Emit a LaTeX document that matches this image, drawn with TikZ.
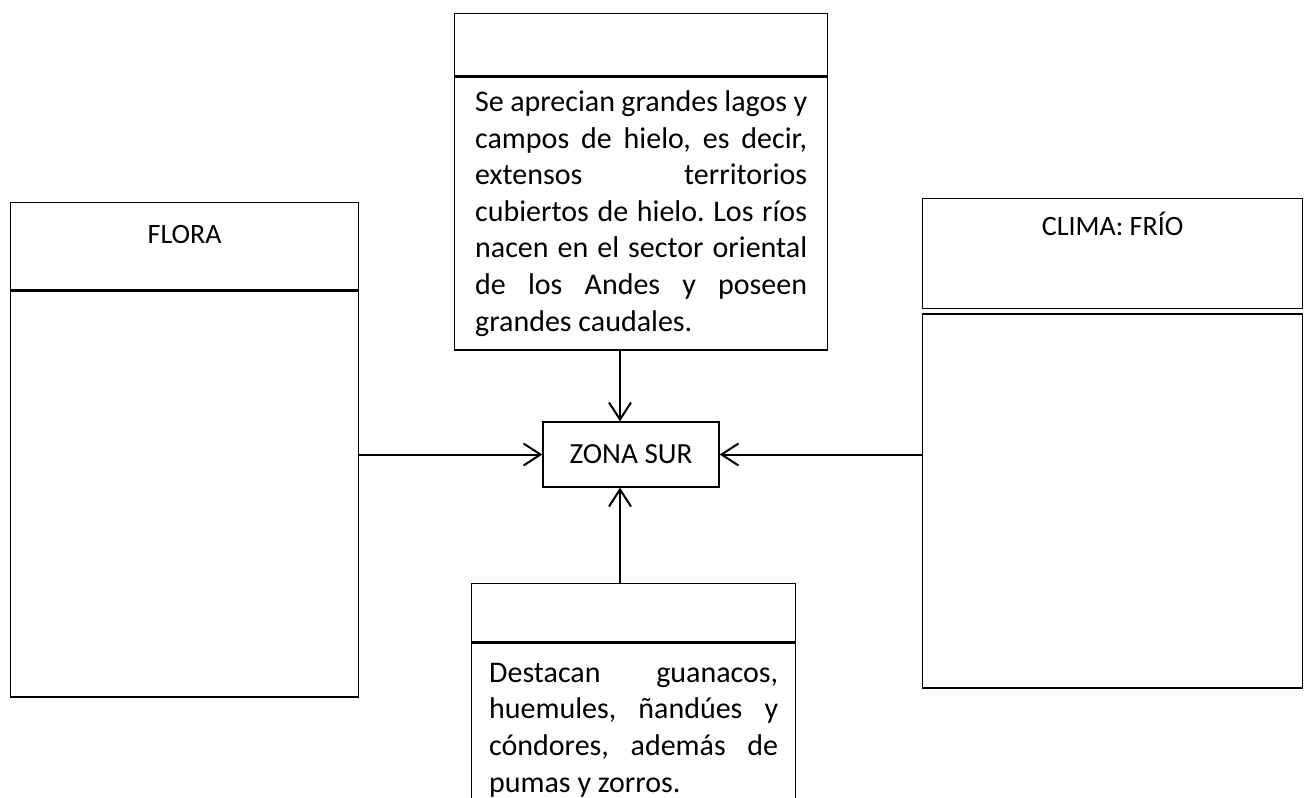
\documentclass[tikz,border=0pt]{standalone}
\usepackage{fontspec}
\setmainfont{Carlito}
\usetikzlibrary{arrows.meta,positioning}
\frenchspacing

\begin{document}
\begin{tikzpicture}[
  x=0.5pt, y=-0.5pt,
  caja/.style={draw, line width=0.65pt, inner sep=0pt, anchor=north west},
  texto/.style={font=\fontsize{15}{18.3}\selectfont},
  titulo/.style={font=\fontsize{14}{17}\selectfont, anchor=north, inner sep=0pt},
  flecha/.style={-{Straight Barb[length=8.5pt,width=11pt]}, line width=1pt},
  node distance=0pt
]
\fill[white] (0,0) rectangle (1305,797);
\useasboundingbox (0,0) rectangle (1305,797);
\clip (0,0) rectangle (1305,797);

% centro
\node[caja, anchor=center, minimum width=88pt, minimum height=32.5pt,
  font=\fontsize{14.6}{17}\selectfont] (zona) at (631,454.5) {ZONA SUR};

% flora (izquierda)
\node[caja, minimum width=174pt, minimum height=43.5pt,
  label={[titulo, yshift=-11.5pt]north:FLORA}] (florahead) at (10,202) {};
\node[caja, minimum width=174pt, minimum height=203pt, below=of florahead] (floracuerpo) {};

% hidrografia (arriba)
\node[caja, minimum width=186.5pt, minimum height=31pt] (hidrohead) at (454,13) {};
\node[caja, minimum width=186.5pt, minimum height=136.5pt, below=of hidrohead,
  texto, text width=166pt, align=justify] (hidrocuerpo)
  {Se aprecian grandes lagos y\linebreak
   campos de hielo, es decir,\linebreak
   extensos territorios\linebreak
   cubiertos de hielo. Los ríos\linebreak
   nacen en el sector oriental\linebreak
   de los Andes y poseen\linebreak
   grandes caudales.};

% fauna (abajo)
\node[caja, minimum width=162pt, minimum height=29pt] (faunahead) at (471,583) {};
\node[caja, minimum width=162pt, minimum height=87pt, below=of faunahead,
  texto, text width=144.5pt, align=justify] (faunacuerpo)
  {Destacan guanacos,\linebreak
   huemules, ñandúes y\linebreak
   cóndores, además de\linebreak
   pumas y zorros.};

% clima (derecha)
\node[caja, minimum width=190pt, minimum height=55pt,
  label={[titulo, yshift=-7pt]north:CLIMA: FRÍO}] (climahead) at (922,198) {};
\node[caja, minimum width=190pt, minimum height=187pt, below=2pt of climahead] (climacuerpo) {};

% flechas
\coordinate (eje) at (620,0);
\draw[flecha] (eje |- hidrocuerpo.south) -- (eje |- zona.north);
\draw[flecha] (eje |- faunahead.north) -- (eje |- zona.south);
\draw[flecha] (floracuerpo.east |- zona.west) -- (zona.west);
\draw[flecha] (climacuerpo.west |- zona.east) -- (zona.east);
\end{tikzpicture}
\end{document}
